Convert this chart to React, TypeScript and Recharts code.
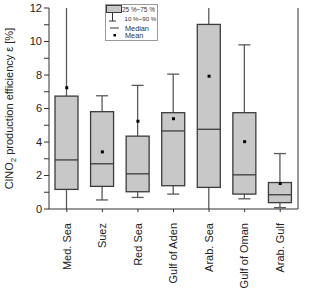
import { Bar, ComposedChart, Scatter, XAxis, YAxis } from 'recharts';

const regions = ['Med. Sea', 'Suez', 'Red Sea', 'Gulf of Aden', 'Arab. Sea', 'Gulf of Oman', 'Arab. Gulf'];
const p10 = [0, 0.54, 0.69, 0.89, 0, 0.61, 0.08];
const p25 = [1.17, 1.35, 1.03, 1.39, 1.29, 0.89, 0.38];
const median = [2.93, 2.7, 2.1, 4.66, 4.76, 2.04, 0.85];
const p75 = [6.74, 5.81, 4.35, 5.75, 11.02, 5.75, 1.58];
const p90 = [12, 6.76, 7.38, 8.05, 12, 9.8, 3.31];
const mean = [7.24, 3.41, 5.24, 5.39, 7.93, 4.02, 1.52];
const yTicks = [0, 1, 2, 3, 4, 5, 6, 7, 8, 9, 10, 11, 12];

const FONT = '"Liberation Sans", Arial, sans-serif';
const BOX_FILL = '#c8c8c8';
const BOX_STROKE = '#3c3c3c';
const WHISKER = '#5a5a5a';
const TEXT = '#222';

const data = regions.map((name, i) => ({
  name,
  box: [p25[i], p75[i]],
  lo: p10[i],
  med: median[i],
  hi: p90[i],
  mean: mean[i],
}));

// box + whiskers + median, scaled from the bar's own pixel extent
function BoxShape(props: any) {
  const { x, y, width, height, payload } = props;
  const top = Math.min(y, y + height);
  const h = Math.abs(height);
  const [q1, q3] = payload.box;
  const ppu = h / (q3 - q1);
  const toY = (v: number) => top + (q3 - v) * ppu;
  const cx = x + width / 2;
  const capW = 6;
  return (
    <g>
      <line x1={cx} x2={cx} y1={toY(payload.hi)} y2={top} stroke={WHISKER} strokeWidth={1.3} />
      <line x1={cx} x2={cx} y1={top + h} y2={toY(payload.lo)} stroke={WHISKER} strokeWidth={1.3} />
      {payload.hi < 12 && (
        <line x1={cx - capW} x2={cx + capW} y1={toY(payload.hi)} y2={toY(payload.hi)} stroke={WHISKER} strokeWidth={1.3} />
      )}
      {payload.lo > 0 && (
        <line x1={cx - capW} x2={cx + capW} y1={toY(payload.lo)} y2={toY(payload.lo)} stroke={WHISKER} strokeWidth={1.3} />
      )}
      <rect x={x} y={top} width={width} height={h} fill={BOX_FILL} stroke={BOX_STROKE} strokeWidth={1.3} />
      <line x1={x} x2={x + width} y1={toY(payload.med)} y2={toY(payload.med)} stroke={BOX_STROKE} strokeWidth={1.3} />
    </g>
  );
}

function MeanDot(props: any) {
  const { cx, cy } = props;
  return <rect x={cx - 1.5} y={cy - 1.5} width={3} height={3} fill="#000" />;
}

function XTick(props: any) {
  const { x, y, payload } = props;
  return (
    <text
      x={x}
      y={y}
      transform={`rotate(-90 ${x} ${y})`}
      textAnchor="end"
      dy="0.35em"
      fontSize={11}
      fontFamily={FONT}
      fill={TEXT}
    >
      {payload.value}
    </text>
  );
}

function LeftTick(props: any) {
  const { x, y, payload } = props;
  if (payload.value % 2 !== 0) return null;
  return (
    <text x={x} y={y} dy="0.35em" textAnchor="end" fontSize={11} fontFamily={FONT} fill={TEXT}>
      {payload.value}
    </text>
  );
}

// right axis: ticks point inward, labels only on even values
function RightTick(props: any) {
  const { x, y, payload } = props;
  return (
    <g>
      <line x1={x - 8} x2={x - 3} y1={y} y2={y} stroke="#333" />
      {payload.value % 2 === 0 && (
        <text x={x} y={y} dy="0.35em" textAnchor="start" fontSize={11} fontFamily={FONT} fill={TEXT}>
          {payload.value}
        </text>
      )}
    </g>
  );
}

function YLabel(props: any) {
  const { viewBox } = props;
  const cx = viewBox.x + 13;
  const cy = viewBox.y + viewBox.height / 2;
  return (
    <text
      x={cx}
      y={cy}
      transform={`rotate(-90 ${cx} ${cy})`}
      textAnchor="middle"
      fontSize={11}
      fontFamily={FONT}
      fill={TEXT}
    >
      ClNO
      <tspan fontSize={8} dy={3}>2</tspan>
      <tspan dy={-3}> production efficiency ε [%]</tspan>
    </text>
  );
}

function BoxLegend() {
  return (
    <svg
      width={54}
      height={38}
      style={{ position: 'absolute', left: 105, top: 4, fontFamily: FONT, overflow: 'visible' }}
    >
      <rect x={0.5} y={0.5} width={52} height={36} fill="#fff" stroke="#999" />
      <rect x={1.5} y={1.5} width={15} height={7} fill={BOX_FILL} stroke={BOX_STROKE} />
      <text x={17} y={8} fontSize={6.4} fill="#333">25 %~75 %</text>
      <line x1={7.5} x2={7.5} y1={9} y2={17} stroke="#333" />
      <line x1={4} x2={11} y1={17} y2={17} stroke="#333" />
      <text x={19.5} y={16.5} fontSize={6.2} fill="#333">10 %~90 %</text>
      <line x1={5} x2={14} y1={24} y2={24} stroke="#333" />
      <text x={20} y={26.5} fontSize={7.3} fill="#333">Median</text>
      <rect x={8.5} y={30} width={2.5} height={2.5} fill="#000" />
      <text x={20} y={34} fontSize={7.3} fill="#333">Mean</text>
    </svg>
  );
}

export default function App() {
  return (
    <div style={{ position: 'absolute', left: 0, top: 0, width: 320, height: 292, background: '#fff' }}>
      <ComposedChart width={320} height={292} data={data} margin={{ top: 8, right: 0, bottom: 0, left: 0 }}>
        <XAxis
          dataKey="name"
          height={83}
          tick={<XTick />}
          tickSize={3}
          tickMargin={11}
          axisLine={{ stroke: '#333' }}
          tickLine={{ stroke: '#333' }}
          interval={0}
        />
        <YAxis
          yAxisId="left"
          width={49}
          domain={[0, 12]}
          ticks={yTicks}
          interval={0}
          tick={<LeftTick />}
          tickSize={5}
          tickMargin={2}
          axisLine={{ stroke: '#333' }}
          tickLine={{ stroke: '#333' }}
          label={<YLabel />}
        />
        <YAxis
          yAxisId="right"
          orientation="right"
          width={22}
          domain={[0, 12]}
          ticks={yTicks}
          interval={0}
          tick={<RightTick />}
          tickSize={0}
          tickMargin={3}
          axisLine={{ stroke: '#333' }}
          tickLine={false}
        />
        <Bar
          yAxisId="left"
          dataKey="box"
          barSize={23}
          shape={<BoxShape />}
          isAnimationActive={false}
        />
        <Scatter yAxisId="left" dataKey="mean" shape={<MeanDot />} isAnimationActive={false} />
      </ComposedChart>
      <BoxLegend />
    </div>
  );
}
